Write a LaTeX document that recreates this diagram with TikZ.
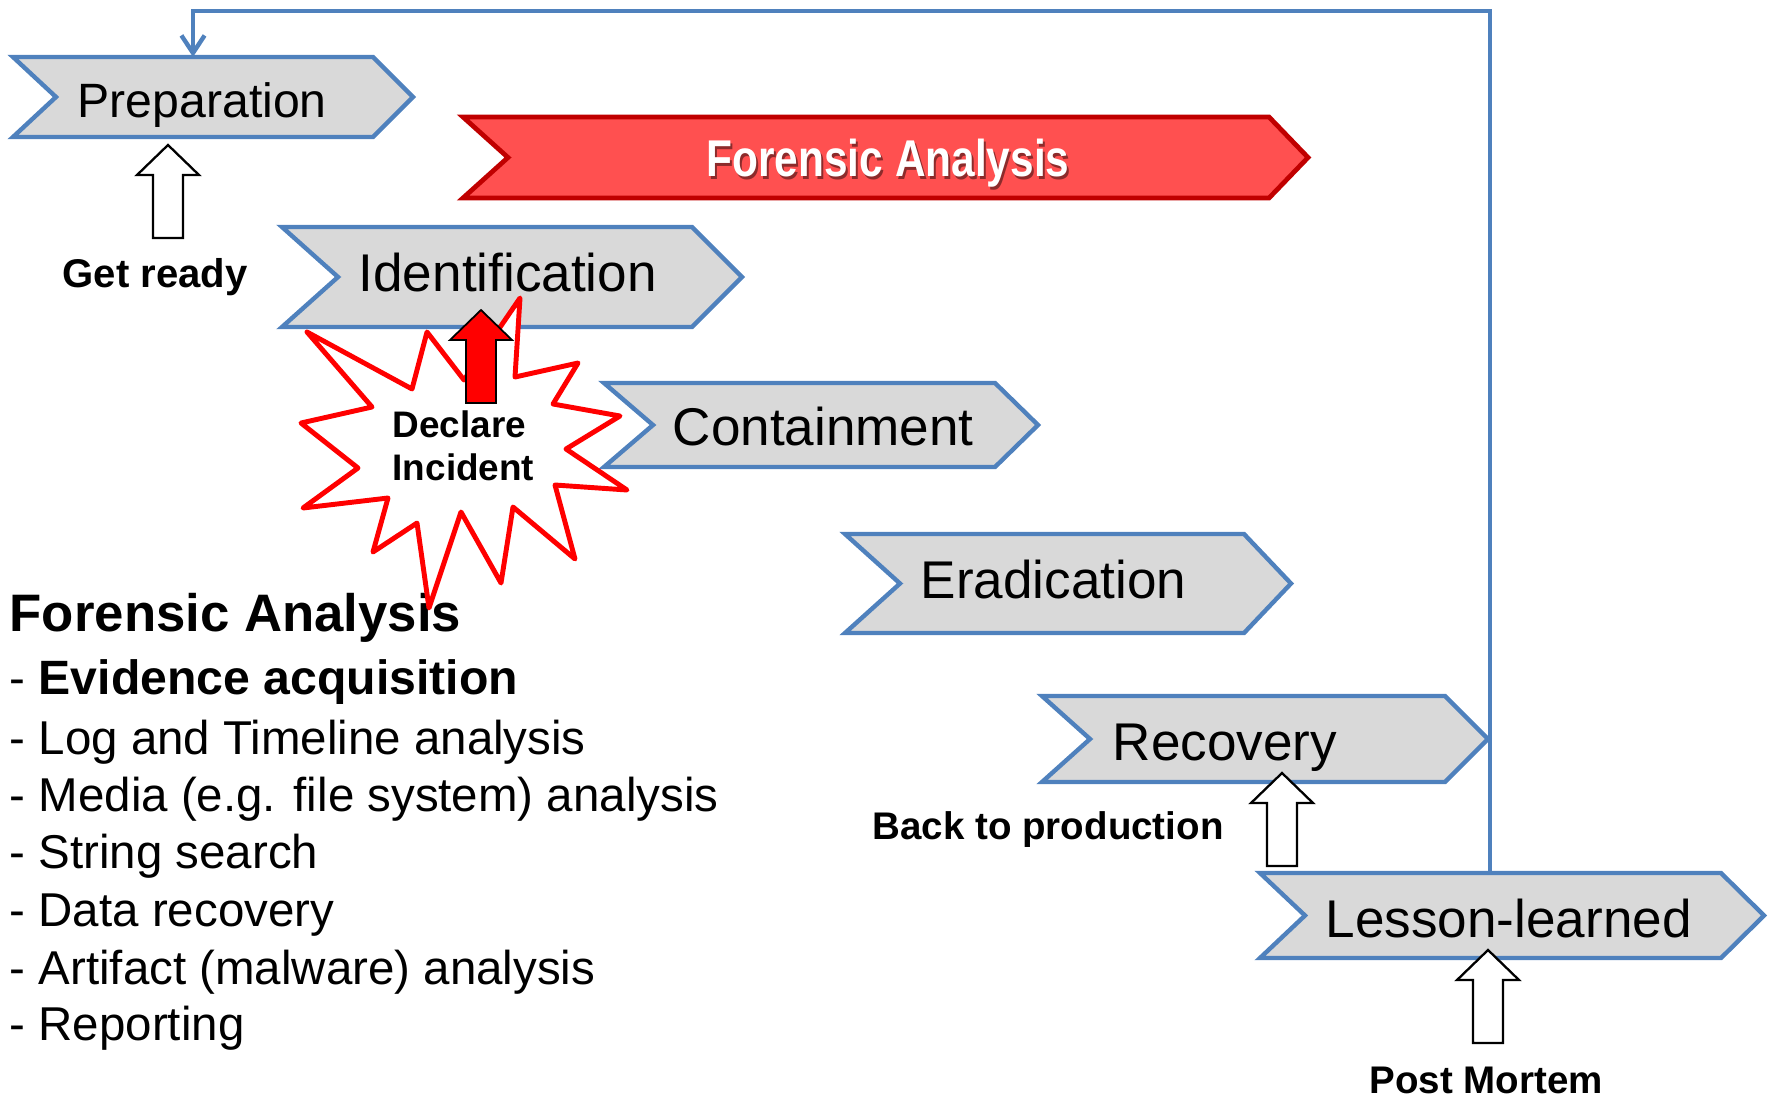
\documentclass[tikz,border=0pt]{standalone}
\usepackage{fontspec}
\setmainfont{Liberation Sans}
\newfontfamily\bannerfont[FakeStretch=0.82]{Liberation Sans}
\usetikzlibrary{arrows.meta}
\definecolor{stageblue}{HTML}{4F81BD}
\definecolor{stagegray}{HTML}{D9D9D9}
\definecolor{bannerfill}{HTML}{FF5050}
\definecolor{bannerline}{HTML}{C00000}
\definecolor{burst}{HTML}{FF0000}

% chevron: style, name, left, right, top, bottom, notch depth, tip depth
\newcommand\chevron[8]{%
  \pgfmathsetmacro\chw{(#4-#3)*0.01}%
  \pgfmathsetmacro\chh{(#6-#5)*0.01}%
  \node[body, minimum width=\chw cm, minimum height=\chh cm] (#2) at ({(#3+#4)/2},{(#5+#6)/2}) {};
  \draw[#1] (#2.north west) -- (#2.north east) -- ([shift={(#8,0)}]#2.east)
    -- (#2.south east) -- (#2.south west) -- ([shift={(#7,0)}]#2.west) -- cycle;
}
% upward block arrow: style, centre x, tip y
\newcommand\blockup[3]{%
  \draw[#1] (#2,#3) -- (#2+31,#3+30) -- (#2+15,#3+30) -- (#2+15,#3+93)
    -- (#2-15,#3+93) -- (#2-15,#3+30) -- (#2-31,#3+30) -- cycle;
}

\begin{document}
\begin{tikzpicture}[x=0.01cm, y=-0.01cm,
  body/.style={inner sep=0pt, outer sep=0pt, draw=none},
  stage/.style={draw=stageblue, fill=stagegray, line width=1.25pt, line join=miter},
  bannerbox/.style={draw=bannerline, fill=bannerfill, line width=1.35pt, line join=miter},
  loopline/.style={draw=stageblue, line width=1.25pt},
  hollow/.style={draw=black, fill=white, line width=0.65pt, line join=miter},
  redarrow/.style={draw=black, fill=burst, line width=0.5pt, line join=miter},
  burstline/.style={draw=burst, fill=white, line width=1.4pt, line join=round},
  stagelabel/.style={anchor=base west, inner sep=0pt, font=\fontsize{15.1}{18}\selectfont},
  preplabel/.style={anchor=base west, inner sep=0pt, font=\fontsize{13.7}{16}\selectfont},
  listhead/.style={anchor=base west, inner sep=0pt, font=\bfseries\fontsize{15}{18}\selectfont},
  listitem/.style={anchor=base west, inner sep=0pt, font=\fontsize{13.5}{16}\selectfont},
  boldlabel/.style={anchor=base west, inner sep=0pt, font=\bfseries\fontsize{10.95}{13}\selectfont},
  bannerlabel/.style={anchor=base, inner sep=0pt, font=\bannerfont\bfseries\fontsize{14.7}{17}\selectfont}
]
\useasboundingbox (0,0) rectangle (1773,1100);

% phases
\chevron{stage}{prep}{13}{373}{57}{137}{43}{40}
\chevron{bannerbox}{banner}{463}{1269}{117}{198}{45}{39}
\chevron{stage}{ident}{282}{692}{227}{327}{56}{50}
\chevron{stage}{contain}{604}{995}{383}{467}{49}{43}
\chevron{stage}{erad}{845}{1244}{534}{633}{55}{47}
\chevron{stage}{recov}{1042}{1445}{696}{782}{48}{43}
\chevron{stage}{lesson}{1260}{1721}{873}{958}{45}{43}

% feedback loop from lessons learned back to preparation
\coordinate (loopcorner) at (1490,11);
\draw[loopline, -{Straight Barb[length=5pt, width=6.6pt, line width=1.25pt]}]
  (loopcorner |- lesson.north) -- (loopcorner) -| (prep.north);

% phase labels
\node[preplabel] (prep-t) at (77,117) {Preparation};
\node[stagelabel] (ident-t) at (358,291) {Identification};
\node[stagelabel] (contain-t) at (672,445) {Containment};
\node[stagelabel] (erad-t) at (920,598) {Eradication};
\node[stagelabel] (recov-t) at (1112,760) {Recovery};
\node[stagelabel] (lesson-t) at (1325,937) {Lesson-learned};

% banner title with soft shadow
\node[bannerlabel, text=black, opacity=0.45] (banner-shadow) at (890,179) {Forensic Analysis};
\node[bannerlabel, text=white] (banner-t) at (888,176) {Forensic Analysis};

% hollow transition arrows
\blockup{hollow}{168}{145}
\blockup{hollow}{1282}{773}
\blockup{hollow}{1488}{950}

\node[boldlabel, font=\bfseries\fontsize{11.4}{13}\selectfont] (getready) at (62,287) {Get ready};
\node[boldlabel] (backprod) at (872,839) {Back to production};
\node[boldlabel] (postmortem) at (1369,1093) {Post Mortem};

% forensic analysis task list
\node[listhead] (fa-head) at (9,631) {Forensic Analysis};
\node[listitem] (fa-1) at (9,694) {- \textbf{\fontsize{13.7}{16}\selectfont Evidence acquisition}};
\node[listitem] (fa-2) at (9,754) {- Log and Timeline analysis};
\node[listitem] (fa-3) at (9,811) {- Media (e.g. file system) analysis};
\node[listitem] (fa-4) at (9,868) {- String search};
\node[listitem] (fa-5) at (9,926) {- Data recovery};
\node[listitem] (fa-6) at (9,984) {- Artifact (malware) analysis};
\node[listitem] (fa-7) at (9,1040) {- Reporting};

% incident declaration burst
\draw[burstline] (520,298) -- (515,377) -- (578,363) -- (553,404) -- (620,416)
  -- (566,449) -- (627,490) -- (555,485) -- (575,559) -- (513,507) -- (501,583)
  -- (461,512) -- (429,608) -- (417,523) -- (373,552) -- (388,498) -- (303,508)
  -- (358,468) -- (301,423) -- (372,407) -- (307,332) -- (412,389) -- (427,332)
  -- (464,380) -- cycle;
\blockup{redarrow}{481}{310}
\node[boldlabel, font=\bfseries\fontsize{10.5}{12}\selectfont] (declare) at (392,437) {Declare};
\node[boldlabel, font=\bfseries\fontsize{10.5}{12}\selectfont] (incident) at (392,480) {Incident};
\end{tikzpicture}
\end{document}
